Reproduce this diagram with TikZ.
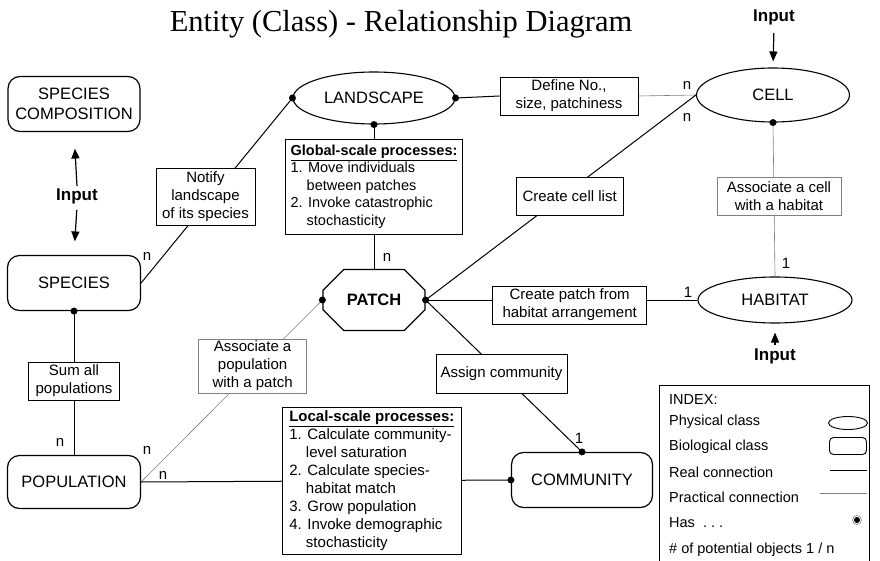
\documentclass[tikz,border=0pt]{standalone}
\usepackage{fontspec}
\setmainfont{Liberation Sans}
\newfontfamily\titlefont{Liberation Serif}
\usepackage{tikz}
\usetikzlibrary{arrows.meta,shapes.geometric,shapes.misc}
\newcommand{\indnt}{\hphantom{1.\ }}

\begin{document}
\begin{tikzpicture}[x=1pt,y=-1pt,
  bio/.style={draw,line width=1.2pt,rounded corners=12pt,align=center,inner sep=0pt,font=\fontsize{16.5}{19.5}\selectfont},
  phys/.style={draw,ellipse,line width=1.1pt,inner sep=0pt,font=\fontsize{16.5}{19.5}\selectfont},
  actbox/.style={draw,fill=white,line width=0.9pt,align=center,inner sep=1pt,font=\fontsize{15}{18}\selectfont},
  procbox/.style={draw,fill=white,line width=0.9pt,align=left,inner xsep=3pt,inner ysep=2pt},
  real/.style={line width=1pt},
  prac/.style={line width=0.6pt,draw=gray},
  mult/.style={inner sep=1pt,font=\fontsize{15}{18}\selectfont},
  inlabel/.style={inner sep=2pt,font=\bfseries\fontsize{17}{20}\selectfont},
  inarrow/.style={line width=1.2pt,-{Triangle[length=10pt,width=8pt]}},
  has/.style={circle,fill,inner sep=0pt,minimum size=7pt},
  idx/.style={anchor=west,inner sep=0pt,font=\fontsize{14.5}{17}\selectfont}]
\useasboundingbox (0,0) rectangle (880,561);
 %title
    \node[anchor=base,font=\titlefont\fontsize{30.5}{34}\selectfont] (title) at (401,32) {Entity (Class) - Relationship Diagram};
 %biological classes
    \node[bio,minimum width=132pt,minimum height=55pt] (spcomp) at (74,104) {SPECIES\\COMPOSITION};
    \node[bio,minimum width=133pt,minimum height=55pt] (spec) at (74,283) {SPECIES};
    \node[bio,minimum width=133pt,minimum height=53pt] (pop) at (74,482) {POPULATION};
    \node[bio,minimum width=141pt,minimum height=55pt] (comm) at (582,480) {COMMUNITY};
 %physical classes
    \node[phys,minimum width=162pt,minimum height=52pt] (land) at (374,98) {LANDSCAPE};
    \node[phys,minimum width=153pt,minimum height=54pt] (cell) at (773,95) {CELL};
    \node[phys,minimum width=154pt,minimum height=46pt] (hab) at (775,300) {HABITAT};
    \node[draw,line width=1.2pt,chamfered rectangle,chamfered rectangle xsep=15pt,chamfered rectangle ysep=15pt,inner sep=0pt,
          minimum width=102pt,minimum height=61pt,font=\bfseries\fontsize{16.5}{19.5}\selectfont] (patch) at (374,300) {PATCH};
 %connections
    \draw[real] (spec.east) -- node[actbox,pos=0.465,xshift=-6pt,minimum width=99pt,minimum height=57pt] (notify) {Notify\\landscape\\of its species} (land.west);
    \node[actbox,minimum width=138pt,minimum height=38pt] (define) at (569,96) {Define No.,\\size, patchiness};
    \draw[real] (land.east) -- (define.west);
    \draw[prac] (define.east) -- (cell.west);
    \draw[real] (land.south) -- node[procbox,pos=0.43,minimum width=177pt,minimum height=95pt,font=\fontsize{14.5}{17.5}\selectfont] (glob)
      {\underline{\textbf{Global-scale processes:}}\\1. Move individuals\\\indnt between patches\\2. Invoke catastrophic\\\indnt stochasticity} (patch.north);
    \draw[real] (patch.east) -- node[actbox,pos=0.507,xshift=7pt,minimum width=107pt,minimum height=38pt] (clist) {Create cell list} (cell.west);
    \draw[real] (patch.east) -- node[actbox,pos=0.53,yshift=-5pt,minimum width=154pt,minimum height=38pt] (cpatch) {Create patch from\\habitat arrangement} (hab.west);
    \draw[real] (patch.east) -- node[actbox,pos=0.485,minimum width=131pt,minimum height=39pt] (assign) {Assign community} (comm.north);
    \draw[prac] (pop.east) -- node[actbox,pos=0.637,xshift=-4pt,minimum width=108pt,minimum height=54pt] (apop) {Associate a\\population\\with a patch} (patch.west);
    \draw[real] (pop.east) -- node[procbox,pos=0.624,minimum width=179pt,minimum height=147pt,font=\fontsize{15}{18.1}\selectfont] (local)
      {\underline{\textbf{Local-scale processes:}}\\1. Calculate community-\\\indnt level saturation\\2. Calculate species-\\\indnt habitat match\\3. Grow population\\4. Invoke demographic\\\indnt stochasticity} (comm.west);
    \draw[real] (spec.south) -- node[actbox,pos=0.486,minimum width=91pt,minimum height=38pt] (sumall) {Sum all\\populations} (pop.north);
    \draw[prac] (cell.south) -- node[actbox,pos=0.477,xshift=5pt,minimum width=124pt,minimum height=38pt] (acell) {Associate a cell\\with a habitat} (hab.north);
 %has dots
    \node[has] (hLandW) at (land.west) {};
    \node[has] (hLandS) at (land.south) {};
    \node[has] (hLandE) at (land.east) {};
    \node[has] (hCellS) at (cell.south) {};
    \node[has] (hPatchW) at (patch.west) {};
    \node[has] (hPatchE) at (patch.east) {};
    \node[has] (hSpecS) at (spec.south) {};
    \node[has] (hCommN) at (comm.north) {};
    \node[has] (hCommW) at (comm.west) {};
 %multiplicities
    \node[mult] (mSpec) at (147,256) {n};
    \node[mult] (mPatch) at (387,257) {n};
    \node[mult] (mCellA) at (687,85) {n};
    \node[mult] (mCellB) at (687,117) {n};
    \node[mult] (mHabA) at (688,292) {1};
    \node[mult] (mHabB) at (786,263) {1};
    \node[mult] (mComm) at (579,438) {1};
    \node[mult] (mPopA) at (60,442) {n};
    \node[mult] (mPopB) at (147,450) {n};
    \node[mult] (mPopC) at (163,475) {n};
 %inputs
    \node[inlabel] (inSp) at (77,196) {Input};
    \draw[inarrow,shorten >=16.5pt] (inSp.north) -- (spcomp.south);
    \draw[inarrow,shorten <=4pt,shorten >=13.5pt] (inSp.south) -- (spec.north);
    \node[inlabel] (inCell) at (774,17) {Input};
    \draw[inarrow,shorten <=6pt,shorten >=6pt] (inCell.south) -- (cell.north);
    \node[inlabel] (inHab) at (775,356) {Input};
    \draw[inarrow,shorten <=1pt,shorten >=9pt] (inHab.north) -- (hab.south);
 %index
    \draw[line width=0.9pt] (659,561) -- (659,385) -- (869,385) -- (869,561);
    \node[idx] (iTitle) at (669,400) {INDEX:};
    \node[idx] (iPhys) at (669,422) {Physical class};
    \node[idx] (iBio) at (669,447) {Biological class};
    \node[idx] (iReal) at (669,472) {Real connection};
    \node[idx] (iPrac) at (669,497) {Practical connection};
    \node[idx] (iHas) at (669,523) {Has\ \ .\ .\ .};
    \node[idx] (iNum) at (669,550) {\# of potential objects 1 / n};
    \node[draw,ellipse,line width=0.9pt,inner sep=0pt,minimum width=39pt,minimum height=13pt] (iEll) at (848,423) {};
    \node[draw,line width=0.9pt,rounded corners=4pt,inner sep=0pt,minimum width=37pt,minimum height=17pt] (iRect) at (848,446) {};
    \draw[real] (830,470) -- (867,470);
    \draw[prac] (820,493) -- (867,493);
    \draw[gray,line width=0.6pt] (857,520) circle (4.5pt);
    \fill (857,520) circle (3pt);
\end{tikzpicture}
\end{document}
